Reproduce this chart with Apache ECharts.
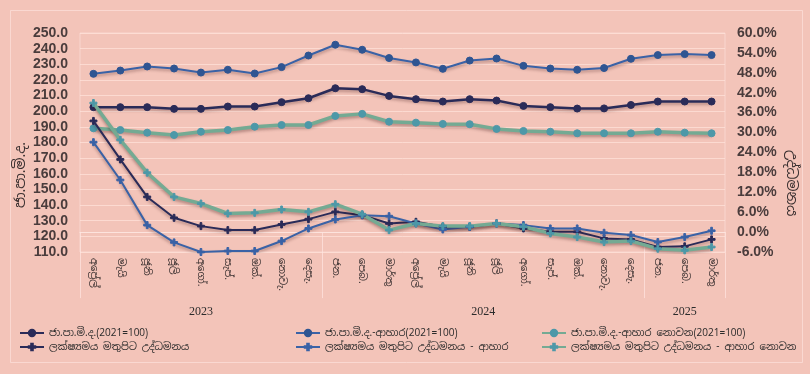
<!DOCTYPE html>
<html><head><meta charset="utf-8">
<script src="https://cdn.jsdelivr.net/npm/echarts@6/dist/echarts.min.js"></script>
<style>html,body{margin:0;padding:0;background:#f3c4b9;}#c{width:810px;height:374px;}</style>
</head><body><div id="c"></div>
<script>
const months = ['අප්‍රේල්','මැයි','ජූනි','ජූලි','අගෝ.','සැප්.','ඔක්.','නොවැ.','දෙසැ.','ජන.','පෙබ.','මාර්තු','අප්‍රේල්','මැයි','ජූනි','ජූලි','අගෝ.','සැප්.','ඔක්.','නොවැ.','දෙසැ.','ජන.','පෙබ.','මාර්තු'];
const years = [{label:'2023', center:4}, {label:'2024', center:14.5}, {label:'2025', center:22}];
const yearStarts = [0, 9, 21];
const leftTicks = {min:110, max:250, interval:10};
const rightTicks = {min:-6, max:60, interval:6};

const ccpi = [202.6,202.6,202.6,201.5,201.5,203.0,203.0,205.8,208.3,214.7,214.1,209.8,207.7,206.2,207.7,206.8,203.4,202.6,201.7,201.8,204.0,206.2,206.2,206.2];
const ccpiFood = [223.9,226.0,228.6,227.3,224.7,226.5,224.1,228.2,235.6,242.5,239.3,234.0,231.2,227.1,232.4,233.7,229.0,227.3,226.5,227.6,233.5,235.9,236.5,235.9];
const ccpiNonFood = [189.1,188.0,186.3,184.8,186.9,188.0,190.1,191.2,191.2,197.0,198.3,193.3,192.7,191.9,191.7,188.7,187.4,186.9,185.9,185.9,185.9,186.9,186.3,185.9];
const infl = [33.5,21.9,10.6,4.3,1.8,0.6,0.6,2.3,3.9,6.1,5.1,2.6,3.1,1.6,1.6,2.6,1.1,0.1,0.1,-1.9,-2.2,-4.5,-4.3,-2.2];
const inflFood = [27.1,15.7,2.1,-3.1,-6.0,-5.7,-5.7,-2.7,1.1,3.8,5.1,4.8,2.6,0.8,1.6,2.6,2.1,1.1,1.1,-0.2,-0.9,-3.0,-1.5,0.4];
const inflNonFood = [38.9,27.8,17.9,10.6,8.6,5.6,5.8,6.8,6.1,8.4,5.4,0.6,2.6,1.8,1.8,2.6,1.6,-0.4,-1.5,-3.0,-2.7,-5.0,-5.5,-4.5];

const names = ['ජා.පා.මි.ද.(2021=100)','ජා.පා.මි.ද.-ආහාර(2021=100)','ජා.පා.මි.ද.-ආහාර නොවන(2021=100)','ලක්ෂ්‍යමය මතුපිට උද්ධමනය','ලක්ෂ්‍යමය මතුපිට උද්ධමනය - ආහාර','ලක්ෂ්‍යමය මතුපිට උද්ධමනය - ආහාර නොවන'];
const C_DARK = '#2a2b58', C_BLUE = '#3a62a6', C_GREEN = '#74aa93', C_TEAL = '#4d98a8';
const plus = 'path://M3,0H5V3H8V5H5V8H3V5H0V3H3Z';
const FONT = "'Noto Sans Sinhala','Noto Sans','Liberation Serif',serif";
const shadow = {shadowColor:'rgba(60,20,20,0.35)', shadowBlur:3, shadowOffsetY:2};

function idx(name, data, color, mcolor, width, yi, sym, ss){
  return {name, type:'line', data, yAxisIndex:yi, symbol:sym, symbolSize:ss, showSymbol:true,
    lineStyle:Object.assign({color, width}, shadow),
    itemStyle:{color:mcolor, borderColor:mcolor, borderWidth:1}, emphasis:{disabled:true}, z: yi===0?3:4};
}

const chart = echarts.init(document.getElementById('c'), null, {renderer:'canvas'});
const legendBase = {orient:'vertical', itemWidth:24, itemHeight:8, itemGap:4, top:323,
  textStyle:{fontFamily:FONT, fontSize:10, color:'#2b2b2b'}, selectedMode:false};
chart.setOption({
  backgroundColor:'#f3c4b9',
  animation:false,
  grid:{left:80, right:85, top:33, bottom:122, show:true, borderColor:'rgba(255,230,225,0.55)', borderWidth:1},
  legend:[
    Object.assign({}, legendBase, {left:14, data:[names[0], names[3]]}),
    Object.assign({}, legendBase, {left:290, data:[names[1], names[4]]}),
    Object.assign({}, legendBase, {left:536, data:[names[2], names[5]]})
  ],
  xAxis:[{
    type:'category', data:months, boundaryGap:true,
    axisLine:{show:true, lineStyle:{color:'rgba(255,235,230,0.8)', width:1}},
    axisTick:{show:true, length:66, interval:(i)=>yearStarts.indexOf(i)>=0, lineStyle:{color:'rgba(255,230,225,0.7)'}},
    axisLabel:{interval:0, rotate:-90, fontFamily:FONT, fontSize:10, color:'#3a3030', margin:6, align:'left', verticalAlign:'middle'}
  },{
    type:'value', min:-0.5, max:23.5, interval:0.5, position:'bottom', offset:52,
    axisLine:{show:false}, axisTick:{show:false}, splitLine:{show:false},
    axisLabel:{showMinLabel:true, showMaxLabel:true, fontFamily:"'Liberation Serif',serif", fontSize:12, color:'#2b2b2b', margin:2,
      formatter:(v)=>{const y=years.find(o=>Math.abs(o.center-v)<1e-6); return y?y.label:'';}}
  }],
  yAxis:[{
    type:'value', min:leftTicks.min, max:leftTicks.max, interval:leftTicks.interval,
    axisLine:{show:false}, axisTick:{show:false},
    splitLine:{show:true, lineStyle:{color:'rgba(255,225,218,0.75)', width:1}},
    axisLabel:{formatter:(v)=>v.toFixed(1), fontFamily:"'Liberation Sans',Arial,sans-serif", fontSize:14, fontWeight:'bold', color:'#4a3c3c', margin:12}
  },{
    type:'value', min:rightTicks.min, max:rightTicks.max, interval:rightTicks.interval, position:'right',
    axisLine:{show:false}, axisTick:{show:false}, splitLine:{show:false},
    axisLabel:{formatter:(v)=>v.toFixed(1)+'%', fontFamily:"'Liberation Sans',Arial,sans-serif", fontSize:14, fontWeight:'bold', color:'#4a3c3c', margin:12}
  }],
  graphic:[
    {type:'text', left:14, top:142, rotation:Math.PI/2, style:{text:'ජා.පා.මි.ද.', font:"14px "+FONT, fill:'#3a3030'}},
    {type:'text', left:784, top:150, rotation:-Math.PI/2, style:{text:'උද්ධමනය', font:"14px "+FONT, fill:'#3a3030'}},
    {type:'rect', left:8, top:8, shape:{width:792, height:352}, style:{fill:'none', stroke:'rgba(255,230,225,0.6)', lineWidth:1}}
  ],
  series:[
    idx(names[0], ccpi, C_DARK, C_DARK, 2.5, 0, 'circle', 7),
    idx(names[1], ccpiFood, C_BLUE, '#2f5592', 2, 0, 'circle', 7),
    idx(names[2], ccpiNonFood, C_GREEN, C_TEAL, 3.5, 0, 'circle', 7),
    idx(names[3], infl, C_DARK, C_DARK, 2, 1, plus, 7),
    idx(names[4], inflFood, C_BLUE, C_BLUE, 2, 1, plus, 7),
    idx(names[5], inflNonFood, C_GREEN, C_TEAL, 3.5, 1, plus, 7)
  ]
});
</script></body></html>
